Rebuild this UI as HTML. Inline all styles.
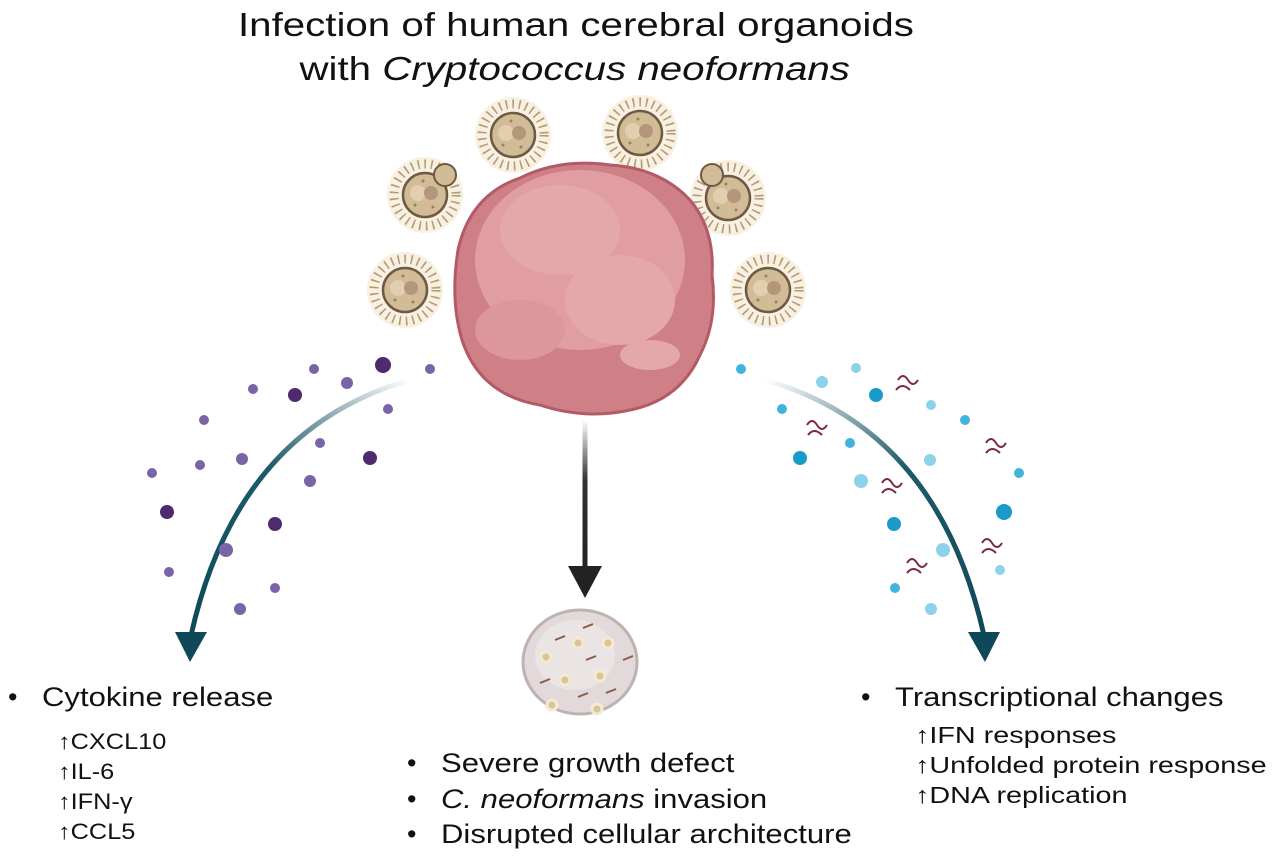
<!DOCTYPE html>
<html><head><meta charset="utf-8"><style>
body{margin:0;width:1288px;height:857px;background:#fff;overflow:hidden;font-family:"Liberation Sans",sans-serif;color:#111}
.t{position:absolute;white-space:nowrap;transform-origin:0 0;transform:scaleX(1.15)}
.b{position:absolute;font-size:27px}
</style></head><body>
<svg width="1288" height="857" style="position:absolute;left:0;top:0">
<defs>
<linearGradient id="gl" x1="410" y1="380" x2="190" y2="650" gradientUnits="userSpaceOnUse"><stop offset="0" stop-color="#fff"/><stop offset="0.45" stop-color="#1d5a6a"/><stop offset="1" stop-color="#0f4858"/></linearGradient>
<linearGradient id="gr" x1="765" y1="380" x2="985" y2="650" gradientUnits="userSpaceOnUse"><stop offset="0" stop-color="#fff"/><stop offset="0.45" stop-color="#1d5a6a"/><stop offset="1" stop-color="#0f4858"/></linearGradient>
<linearGradient id="gc" x1="0" y1="420" x2="0" y2="570" gradientUnits="userSpaceOnUse"><stop offset="0" stop-color="#fff"/><stop offset="0.4" stop-color="#333"/><stop offset="1" stop-color="#222"/></linearGradient>
<g id="y">
<circle r="38" fill="#f8f0e0"/>
<circle r="31" fill="none" stroke="#b49a78" stroke-width="9" stroke-dasharray="1.6 5"/>
<circle r="22" fill="#d2bc98" stroke="#6e5a44" stroke-width="2.5"/>
<circle cx="-7" cy="-2" r="8" fill="#e1cfb0"/>
<circle cx="6" cy="-2" r="7" fill="#b4967a"/>
<circle cx="-10" cy="10" r="1.5" fill="#9a7e60"/><circle cx="8" cy="12" r="1.5" fill="#9a7e60"/><circle cx="-2" cy="-14" r="1.5" fill="#9a7e60"/>
</g>
</defs>
<use href="#y" x="513" y="135"/><use href="#y" x="640" y="133"/>
<use href="#y" x="425" y="195"/><use href="#y" x="728" y="198"/>
<use href="#y" x="405" y="290"/><use href="#y" x="768" y="290"/>
<circle cx="445" cy="175" r="11" fill="#d2bc98" stroke="#6e5a44" stroke-width="2"/>
<circle cx="712" cy="175" r="11" fill="#d2bc98" stroke="#6e5a44" stroke-width="2"/>
<path d="M520,178 Q560,158 610,165 Q660,168 690,200 Q715,230 712,275 Q718,320 700,355 Q680,400 630,410 Q585,420 540,405 Q480,395 462,340 Q450,300 458,250 Q470,195 520,178Z" fill="#cf7f86" stroke="#b35a66" stroke-width="3"/>
<ellipse cx="580" cy="260" rx="105" ry="90" fill="#e09ea2"/>
<ellipse cx="560" cy="230" rx="60" ry="45" fill="#e4a8ab"/>
<ellipse cx="620" cy="300" rx="55" ry="45" fill="#e4a8ab"/>
<ellipse cx="520" cy="330" rx="45" ry="30" fill="#dc979c"/>
<ellipse cx="650" cy="355" rx="30" ry="15" fill="#e4a8ab"/>
<path d="M410,380 Q235,430 190,640" fill="none" stroke="url(#gl)" stroke-width="5"/>
<polygon points="175,632 207,632 190,662" fill="#0f4858"/>
<path d="M765,380 Q940,430 985,640" fill="none" stroke="url(#gr)" stroke-width="5"/>
<polygon points="968,632 1000,632 985,662" fill="#0f4858"/>
<line x1="585" y1="420" x2="585" y2="575" stroke="url(#gc)" stroke-width="5"/>
<polygon points="568,566 602,566 585,598" fill="#222"/>
<ellipse cx="580" cy="662" rx="57" ry="52" fill="#e2dada" stroke="#bfb2b2" stroke-width="3"/>
<ellipse cx="575" cy="655" rx="40" ry="35" fill="#ebe4e4"/>
<g fill="#d8c49a" stroke="#f4ead0" stroke-width="3">
<circle cx="578" cy="643" r="5"/><circle cx="608" cy="643" r="5"/><circle cx="546" cy="657" r="5"/><circle cx="565" cy="680" r="5"/><circle cx="600" cy="676" r="5"/><circle cx="552" cy="705" r="5"/><circle cx="597" cy="709" r="5"/></g>
<g stroke="#8a5a48" stroke-width="2" fill="none">
<path d="M583,628 l10,-4"/><path d="M555,640 l10,-4"/><path d="M586,660 l10,-4"/><path d="M623,660 l10,-4"/><path d="M540,683 l10,-4"/><path d="M578,697 l10,-4"/><path d="M606,693 l10,-4"/>
</g>
<g fill="#7a64a8">
<circle cx="383" cy="365" r="8" fill="#4e2a6e"/><circle cx="430" cy="369" r="5"/><circle cx="347" cy="383" r="6"/><circle cx="314" cy="369" r="5"/><circle cx="295" cy="395" r="7" fill="#4e2a6e"/><circle cx="388" cy="409" r="5"/><circle cx="253" cy="389" r="5"/><circle cx="204" cy="420" r="5"/><circle cx="320" cy="443" r="5"/><circle cx="242" cy="459" r="6"/><circle cx="200" cy="465" r="5"/><circle cx="370" cy="458" r="7" fill="#4e2a6e"/><circle cx="310" cy="481" r="6"/><circle cx="152" cy="473" r="5"/><circle cx="167" cy="512" r="7" fill="#4e2a6e"/><circle cx="275" cy="524" r="7" fill="#4e2a6e"/><circle cx="226" cy="550" r="7"/><circle cx="169" cy="572" r="5"/><circle cx="275" cy="588" r="5"/><circle cx="240" cy="609" r="6"/>
</g>
<g fill="#1a9ac8">
<circle cx="741" cy="369" r="5" fill="#40b4dc"/><circle cx="822" cy="382" r="6" fill="#8cd2ea"/><circle cx="856" cy="368" r="5" fill="#8cd2ea"/><circle cx="876" cy="395" r="7"/><circle cx="782" cy="409" r="5" fill="#40b4dc"/><circle cx="931" cy="405" r="5" fill="#8cd2ea"/><circle cx="850" cy="443" r="5" fill="#40b4dc"/><circle cx="965" cy="420" r="5" fill="#40b4dc"/><circle cx="800" cy="458" r="7"/><circle cx="930" cy="460" r="6" fill="#8cd2ea"/><circle cx="861" cy="481" r="7" fill="#8cd2ea"/><circle cx="1019" cy="473" r="5" fill="#40b4dc"/><circle cx="894" cy="524" r="7"/><circle cx="1004" cy="512" r="8"/><circle cx="943" cy="550" r="7" fill="#8cd2ea"/><circle cx="1000" cy="570" r="5" fill="#8cd2ea"/><circle cx="895" cy="588" r="5" fill="#40b4dc"/><circle cx="931" cy="609" r="6" fill="#8cd2ea"/>
</g>
<g stroke="#7a2a46" stroke-width="2" fill="none">
<path d="M898,380 q5,-8 10,0 q5,8 10,0 M896,390 q6,-8 14,0"/>
<path d="M807,425 q5,-8 10,0 q5,8 10,0 M808,435 q6,-8 14,0"/>
<path d="M986,443 q5,-8 10,0 q5,8 10,0 M986,453 q6,-8 14,0"/>
<path d="M882,483 q5,-8 10,0 q5,8 10,0 M882,493 q6,-8 14,0"/>
<path d="M982,543 q5,-8 10,0 q5,8 10,0 M982,553 q6,-8 14,0"/>
<path d="M907,563 q5,-8 10,0 q5,8 10,0 M907,573 q6,-8 14,0"/>
</g>
</svg>
<div class="t" style="left:238px;top:3px;font-size:33px;line-height:44px;text-align:center;transform:scaleX(1.22)"><div style="width:552px">Infection of human cerebral organoids<br>with <i>Cryptococcus neoformans</i></div></div>
<div class="b" style="left:8px;top:682px">•</div>
<div class="t" style="left:42px;top:682px;font-size:27px">Cytokine release</div>
<div class="t" style="left:58px;top:727px;font-size:22px;line-height:30px">↑CXCL10<br>↑IL-6<br>↑IFN-γ<br>↑CCL5</div>
<div class="b" style="left:407px;top:746px;line-height:35.5px">•<br>•<br>•</div>
<div class="t" style="left:441px;top:746px;font-size:27px;line-height:35.5px">Severe growth defect<br><i>C. neoformans</i> invasion<br>Disrupted cellular architecture</div>
<div class="b" style="left:861px;top:682px">•</div>
<div class="t" style="left:895px;top:682px;font-size:27px">Transcriptional changes</div>
<div class="t" style="left:915px;top:720px;font-size:23px;line-height:30px;transform:scaleX(1.25)">↑IFN responses<br>↑Unfolded protein response<br>↑DNA replication</div>
</body></html>
